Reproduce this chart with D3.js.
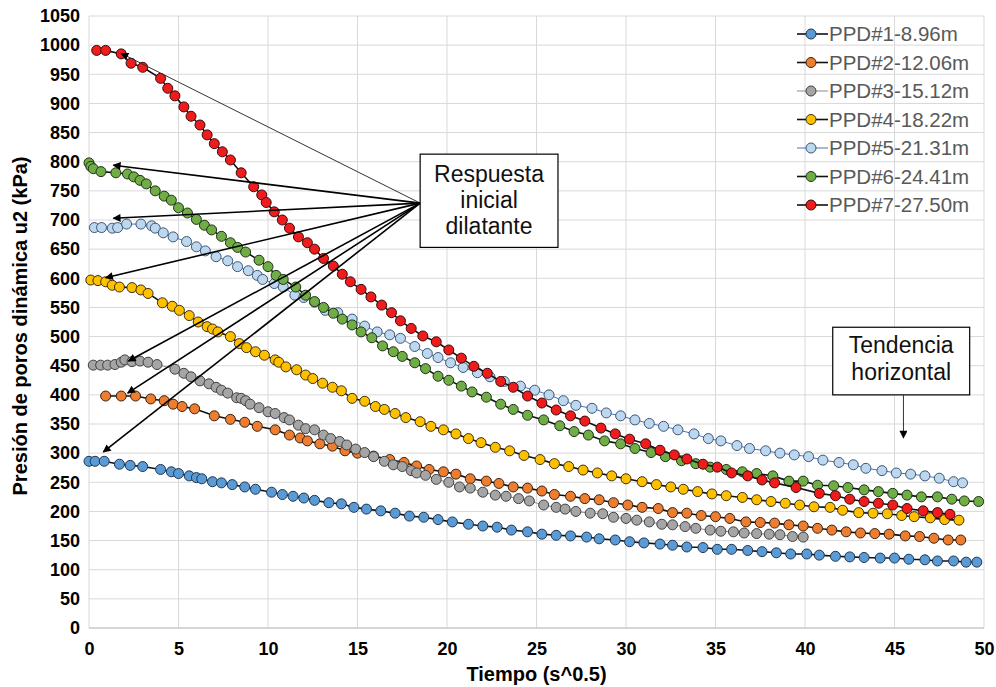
<!DOCTYPE html>
<html>
<head>
<meta charset="utf-8">
<script src="https://cdn.jsdelivr.net/npm/d3@7"></script>
<style>
  html, body { margin: 0; padding: 0; background: #fff; }
  svg { display: block; font-family: "Liberation Sans", Arial, sans-serif; }
</style>
</head>
<body>
<svg id="chart" width="996" height="687"></svg>
<script>
// Dynamic pore pressure u2 (kPa) vs. square root of time (s^0.5)
const seriesNames = ["PPD#1-8.96m", "PPD#2-12.06m", "PPD#3-15.12m", "PPD#4-18.22m",
                     "PPD#5-21.31m", "PPD#6-24.41m", "PPD#7-27.50m"];

const ppd1 = [[0,286],[0.34,286],[0.85,286],[1.7,281],[2.3,279],[3.0,277],[4.0,272],[4.6,268],[5.0,265],[5.6,261],
  [6.0,258],[6.3,256],[6.9,251],[7.4,249],[8.0,246],[8.7,242],[9.3,238],[10.2,233],[10.8,229],[11.4,226],
  [12.0,223],[12.6,219],[13.4,215],[14.1,213],[14.8,207],[15.5,204],[16.3,201],[17.1,197],[17.9,192],[18.7,190],
  [19.5,186],[20.3,182],[21.2,178],[22.0,175],[22.8,173],[23.6,168],[24.5,165],[25.3,161],[26.1,159],[26.9,158],
  [27.8,156],[28.5,153],[29.4,151],[30.2,148],[31.0,146],[31.9,144],[32.6,142],[33.4,139],[34.3,138],[35.1,135],
  [35.9,135],[36.8,133],[37.6,131],[38.4,129],[39.2,127],[40.1,127],[40.8,125],[41.7,123],[42.5,122],[43.3,121],
  [44.2,120],[45.0,120],[45.8,118],[46.7,117],[47.4,115],[48.3,115],[49.0,113],[49.6,113]];

const ppd2 = [[0.93,398],[1.8,398],[2.6,398],[3.45,393],[4.2,390],[4.7,384],[5.2,380],[5.9,376],[7.0,364],[7.9,358],
  [8.7,353],[9.4,346],[10.4,340],[11.2,331],[11.8,326],[12.2,321],[12.9,316],[13.6,312],[14.3,304],[15.0,300],
  [15.9,295],[16.8,289],[17.6,284],[18.3,278],[19.0,272],[19.8,268],[20.5,264],[21.3,256],[22.2,252],[22.9,248],
  [23.7,242],[24.5,240],[25.3,235],[26.0,229],[26.9,226],[27.7,222],[28.5,220],[29.3,215],[30.1,211],[30.9,207],
  [31.8,205],[32.6,198],[33.4,197],[34.2,193],[35.0,191],[35.8,188],[36.7,182],[37.5,181],[38.3,180],[39.1,177],
  [39.9,175],[40.7,171],[41.5,168],[42.3,165],[43.1,163],[43.9,162],[44.7,161],[45.6,158],[46.4,157],[47.2,154],
  [48.0,151],[48.7,151]];

const ppd3 = [[0.24,451],[0.65,451],[1.04,451],[1.45,452],[1.8,456],[2.0,460],[2.4,457],[2.85,458],[3.3,456],[3.8,452],
  [4.8,444],[5.3,437],[5.7,431],[6.2,424],[6.7,419],[7.1,413],[7.4,408],[7.75,403],[8.25,395],[8.5,394],
  [8.75,390],[9.0,384],[9.5,378],[10.0,371],[10.4,368],[10.9,361],[11.2,357],[11.7,348],[12.1,342],[12.6,340],
  [13.1,331],[13.5,325],[14.0,320],[14.4,314],[14.9,307],[15.4,301],[15.9,294],[16.5,286],[17.0,280],[17.5,277],
  [18.0,270],[18.3,266],[18.8,262],[19.4,255],[20.1,250],[20.7,242],[21.3,240],[22.0,233],[22.7,228],[23.3,226],
  [24.0,222],[24.6,218],[25.4,211],[26.1,207],[26.6,204],[27.2,200],[28.0,197],[28.7,196],[29.3,190],[30.0,188],
  [30.6,185],[31.3,182],[32.0,178],[32.6,177],[33.3,174],[33.9,171],[34.7,168],[35.3,166],[36.0,165],[36.6,163],
  [37.3,162],[38.0,161],[38.6,160],[39.3,157],[39.9,156]];

const ppd4 = [[0.1,597],[0.5,596],[0.93,594],[1.3,588],[1.7,585],[2.4,584],[2.9,580],[3.3,574],[4.1,558],[4.65,552],
  [5.05,545],[5.6,536],[6.1,525],[6.6,517],[6.9,513],[7.2,508],[7.9,500],[8.4,488],[8.8,481],[9.3,474],
  [9.8,468],[10.4,460],[10.6,456],[11.0,448],[11.6,443],[12.1,434],[12.5,428],[13.05,420],[13.6,413],[14.1,407],
  [14.7,394],[15.4,389],[16.0,380],[16.5,375],[17.1,368],[17.7,361],[18.5,354],[19.1,346],[19.8,340],[20.5,333],
  [21.2,325],[21.9,318],[22.7,310],[23.5,304],[24.3,296],[25.2,289],[26.0,282],[26.8,277],[27.6,271],[28.4,266],
  [29.2,261],[30.0,256],[30.9,251],[31.7,246],[32.5,242],[33.2,238],[34.0,234],[34.8,230],[35.6,227],[36.5,224],
  [37.3,220],[38.1,217],[38.9,214],[39.7,211],[40.5,208],[41.4,207],[42.1,202],[43.0,198],[43.8,197],[44.6,196],
  [45.4,193],[46.1,191],[47.0,189],[47.8,186],[48.6,185]];

const ppd5 = [[0.3,687],[0.7,687],[1.3,686],[1.6,687],[2.1,693],[2.9,693],[3.5,690],[3.7,686],[4.15,678],[4.7,671],
  [5.45,663],[6.0,654],[6.5,647],[7.1,637],[7.75,630],[8.3,620],[8.9,613],[9.4,605],[9.7,598],[10.35,591],
  [10.85,585],[11.5,571],[12.0,567],[12.6,559],[13.2,545],[13.9,541],[14.7,530],[15.4,518],[16.1,508],[16.8,503],
  [17.4,497],[18.2,483],[18.9,471],[19.5,464],[20.2,455],[20.9,447],[21.7,438],[22.4,431],[23.2,423],[24.1,415],
  [24.9,408],[25.7,400],[26.5,390],[27.2,382],[28.1,377],[28.9,369],[29.7,364],[30.5,357],[31.3,351],[32.1,346],
  [32.9,340],[33.8,333],[34.6,325],[35.3,321],[36.2,313],[36.9,308],[37.8,304],[38.6,300],[39.4,297],[40.2,294],
  [41.0,288],[41.9,284],[42.7,280],[43.4,274],[44.3,270],[45.1,266],[45.9,264],[46.7,261],[47.5,257],[48.3,251],
  [48.8,249]];

const ppd6 = [[0.0,798],[0.1,792],[0.24,788],[0.67,783],[1.5,781],[2.15,779],[2.5,774],[2.85,768],[3.2,762],[3.7,750],
  [4.2,741],[4.6,734],[5.0,721],[5.5,712],[6.0,701],[6.45,691],[6.85,683],[7.4,672],[7.9,661],[8.3,653],
  [8.75,645],[9.5,631],[10.0,620],[10.45,605],[10.85,598],[11.55,585],[12.1,571],[12.6,560],[13.1,550],[13.65,540],
  [14.15,530],[14.7,520],[15.2,508],[15.8,498],[16.4,484],[17.0,474],[17.5,466],[18.2,455],[18.8,445],[19.5,432],
  [20.1,425],[20.8,415],[21.4,405],[22.2,396],[23.0,384],[23.7,375],[24.5,365],[25.4,357],[26.3,347],[27.1,337],
  [27.9,331],[28.8,321],[29.7,316],[30.5,308],[31.4,301],[32.2,294],[33.1,287],[33.9,282],[34.7,276],[35.6,272],
  [36.5,268],[37.3,265],[38.2,261],[39.1,252],[39.9,252],[40.7,245],[41.6,244],[42.4,241],[43.3,237],[44.1,234],
  [44.9,231],[45.7,228],[46.5,225],[47.4,225],[48.2,221],[48.9,218],[49.7,217]];

const ppd7 = [[0.43,991],[0.93,991],[1.8,985],[2.35,969],[3.0,962],[4.0,943],[4.4,926],[4.8,913],[5.3,894],[5.7,878],
  [6.2,863],[6.6,846],[7.0,831],[7.45,817],[7.9,803],[8.5,781],[9.2,757],[9.65,743],[9.9,730],[10.35,714],
  [10.8,700],[11.2,686],[11.7,671],[12.2,661],[12.6,650],[13.1,634],[13.65,621],[14.15,607],[14.6,594],[15.2,581],
  [15.75,568],[16.35,554],[16.9,541],[17.4,527],[18.0,514],[18.65,501],[19.4,491],[20.1,477],[20.8,463],[21.5,449],
  [22.25,437],[23.0,423],[23.7,413],[24.5,398],[25.3,386],[26.1,374],[26.9,364],[27.7,355],[28.6,343],[29.4,333],
  [30.2,324],[31.1,316],[31.9,305],[32.7,297],[33.4,290],[34.3,281],[35.1,276],[35.9,266],[36.8,261],[37.6,254],
  [38.3,249],[39.5,241],[40.8,231],[41.7,227],[42.5,221],[43.3,217],[44.1,214],[44.9,211],[45.7,205],[46.6,201],
  [47.4,198],[48.1,195]];

const seriesData = [ppd1, ppd2, ppd3, ppd4, ppd5, ppd6, ppd7];

// Axis ticks
const xTicks = d3.range(0, 51, 5);
const yTicks = d3.range(0, 1051, 50);

// Per-series styling
const fills   = ["#5B9BD5", "#ED7D31", "#A5A5A5", "#FFC000", "#BDD7EE", "#70AD47", "#EE1C1C"];
const strokes = ["#1F3550", "#3A2210", "#404040", "#3A3010", "#3C5676", "#1E3315", "#3A0A0A"];
const lineColors = ["#111", "#111", "#8C8C8C", "#111", "#4472C4", "#111", "#111"];
const lineWidths = [1.6, 1.6, 1.0, 1.6, 1.0, 1.6, 1.6];

// Annotation geometry in data units (x: s^0.5, y: kPa)
const calloutOrigin = [18.5, 729];
const calloutTargets = [[1.79, 986], [1.36, 794], [1.36, 703], [0.93, 601], [2.2, 458], [2.16, 403], [0.8, 302]];
const calloutBox = { x0: 18.5, x1: 26.2, y0: 813, y1: 653 };
const calloutLines = ["Respuesta", "inicial", "dilatante"];
const trendBox = { x0: 41.55, x1: 49.2, y0: 516, y1: 400 };
const trendArrow = { x: 45.5, y0: 400, y1: 326 };
const trendLines = ["Tendencia", "horizontal"];

const W = 996, H = 687;
const margin = { left: 89, right: 12, top: 16, bottom: 59 };
const svg = d3.select("#chart");

const x = d3.scaleLinear().domain([0, 50]).range([margin.left, W - margin.right]);
const y = d3.scaleLinear().domain([0, 1050]).range([H - margin.bottom, margin.top]);

// Grid
const grid = svg.append("g");
grid.selectAll("line.h").data(yTicks).join("line")
  .attr("x1", x(0)).attr("x2", x(50))
  .attr("y1", d => y(d)).attr("y2", d => y(d))
  .attr("stroke", "#D9D9D9").attr("stroke-width", 1);
grid.selectAll("line.v").data(xTicks).join("line")
  .attr("x1", d => x(d)).attr("x2", d => x(d))
  .attr("y1", y(0)).attr("y2", y(1050))
  .attr("stroke", "#D9D9D9").attr("stroke-width", 1);
grid.append("line").attr("x1", x(0)).attr("x2", x(50)).attr("y1", y(0)).attr("y2", y(0))
  .attr("stroke", "#BFBFBF").attr("stroke-width", 1.2);

// Axes (labels only)
const xAxis = svg.append("g").attr("transform", `translate(0,${y(0)})`)
  .call(d3.axisBottom(x).tickValues(xTicks).tickFormat(d3.format("d")).tickSize(0).tickPadding(14));
const yAxis = svg.append("g").attr("transform", `translate(${x(0)},0)`)
  .call(d3.axisLeft(y).tickValues(yTicks).tickFormat(d3.format("d")).tickSize(0).tickPadding(9));
[xAxis, yAxis].forEach(a => {
  a.select(".domain").remove();
  a.selectAll("text").attr("font-family", "'Liberation Sans', Arial, sans-serif")
    .attr("font-size", 18).attr("font-weight", "bold").attr("fill", "#000");
});

svg.append("text").attr("x", (x(0) + x(50)) / 2).attr("y", 681)
  .attr("text-anchor", "middle").attr("font-size", 20).attr("font-weight", "bold")
  .text("Tiempo (s^0.5)");
svg.append("text").attr("transform", `translate(27,${(y(0) + y(1050)) / 2 + 4}) rotate(-90)`)
  .attr("text-anchor", "middle").attr("font-size", 20).attr("font-weight", "bold")
  .text("Presión de poros dinámica u2 (kPa)");

// Series
const line = d3.line().x(d => x(d[0])).y(d => y(d[1]));
const plot = svg.append("g");
seriesData.forEach((data, i) => {
  const g = plot.append("g");
  g.append("path").datum(data).attr("d", line)
    .attr("fill", "none").attr("stroke", lineColors[i]).attr("stroke-width", lineWidths[i]);
  g.selectAll("circle").data(data).join("circle")
    .attr("cx", d => x(d[0])).attr("cy", d => y(d[1])).attr("r", 5)
    .attr("fill", fills[i]).attr("stroke", strokes[i]).attr("stroke-width", 1);
});

// Legend
const legend = svg.append("g");
seriesNames.forEach((name, i) => {
  const cy = 34 + i * 28.5;
  legend.append("line").attr("x1", 797).attr("x2", 828).attr("y1", cy).attr("y2", cy)
    .attr("stroke", lineColors[i]).attr("stroke-width", lineWidths[i]);
  legend.append("circle").attr("cx", 811).attr("cy", cy).attr("r", 5)
    .attr("fill", fills[i]).attr("stroke", strokes[i]).attr("stroke-width", 1);
  legend.append("text").attr("x", 829).attr("y", cy + 7)
    .attr("font-size", 20.5).attr("fill", "#595959").text(name);
});

// Arrowhead marker
const defs = svg.append("defs");
defs.append("marker").attr("id", "arrow").attr("viewBox", "0 0 10 10")
  .attr("refX", 9).attr("refY", 5).attr("markerWidth", 10).attr("markerHeight", 8)
  .attr("markerUnits", "userSpaceOnUse").attr("orient", "auto")
  .append("path").attr("d", "M0,0 L10,5 L0,10 Z").attr("fill", "#000");

// "Respuesta inicial dilatante" callout
const ann = svg.append("g");
calloutTargets.forEach((t, i) => {
  ann.append("line")
    .attr("x1", x(calloutOrigin[0])).attr("y1", y(calloutOrigin[1]))
    .attr("x2", x(t[0])).attr("y2", y(t[1]))
    .attr("stroke", i === 0 ? "#333" : "#000").attr("stroke-width", i === 0 ? 1 : 1.6)
    .attr("marker-end", "url(#arrow)");
});
ann.append("rect")
  .attr("x", x(calloutBox.x0)).attr("y", y(calloutBox.y0))
  .attr("width", x(calloutBox.x1) - x(calloutBox.x0)).attr("height", y(calloutBox.y1) - y(calloutBox.y0))
  .attr("fill", "#fff").attr("stroke", "#000").attr("stroke-width", 1.2);
calloutLines.forEach((s, i) => {
  ann.append("text").attr("x", (x(calloutBox.x0) + x(calloutBox.x1)) / 2).attr("y", 182 + i * 26)
    .attr("text-anchor", "middle").attr("font-size", 23).attr("fill", "#111").text(s);
});

// "Tendencia horizontal" callout
ann.append("rect")
  .attr("x", x(trendBox.x0)).attr("y", y(trendBox.y0))
  .attr("width", x(trendBox.x1) - x(trendBox.x0)).attr("height", y(trendBox.y1) - y(trendBox.y0))
  .attr("fill", "#fff").attr("stroke", "#000").attr("stroke-width", 1.2);
trendLines.forEach((s, i) => {
  ann.append("text").attr("x", (x(trendBox.x0) + x(trendBox.x1)) / 2).attr("y", 353 + i * 27)
    .attr("text-anchor", "middle").attr("font-size", 23).attr("fill", "#111").text(s);
});
ann.append("line")
  .attr("x1", x(trendArrow.x)).attr("x2", x(trendArrow.x))
  .attr("y1", y(trendArrow.y0)).attr("y2", y(trendArrow.y1))
  .attr("stroke", "#333").attr("stroke-width", 1).attr("marker-end", "url(#arrow)");
</script>
</body>
</html>
